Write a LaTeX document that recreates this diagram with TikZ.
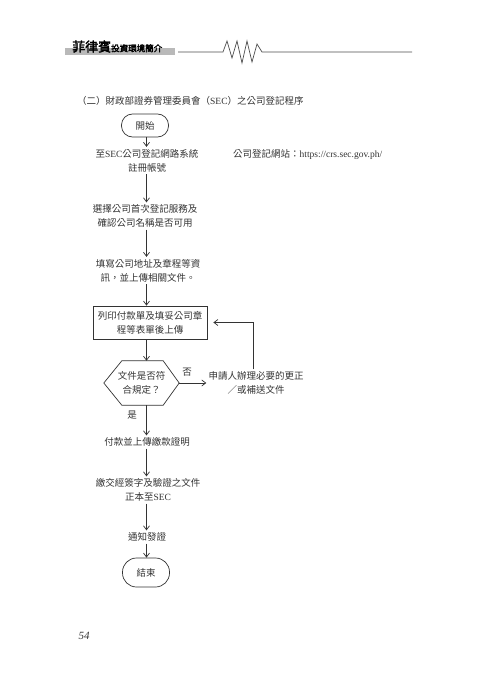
\documentclass[tikz,border=0pt]{standalone}
\usepackage{fontspec}
\setmainfont{Liberation Serif}
\newfontfamily\zhf{Noto Sans CJK TC}
\newfontfamily\zhb[FakeBold=2.5]{Noto Sans CJK TC}
\usetikzlibrary{arrows.meta,calc}
\definecolor{ink}{HTML}{333333}
\begin{document}
\begin{tikzpicture}[x=1pt,y=-1pt,
  txt/.style={font={\zhf\fontsize{9.5}{14}\selectfont}, text=ink, align=center, inner sep=2pt},
  term/.style={txt, draw=ink, line width=0.7pt, rounded corners=11pt, minimum width=47pt, minimum height=23pt},
  procbox/.style={txt, draw=ink, line width=0.7pt, minimum width=114pt, minimum height=33pt},
  arr/.style={draw=ink, line width=0.7pt, -{Straight Barb[length=4pt,width=6pt]}},
  lbl/.style={txt, inner sep=0pt}]
\useasboundingbox (0,0) rectangle (480,679);
% header
\fill[gray!55] (65,48) rectangle (175,55);
\node[anchor=base west, inner sep=0pt, text=black] (hdr) at (72,51.5) {{\zhb\fontsize{13}{13}\selectfont 菲律賓}{\zhb\fontsize{8.5}{9}\selectfont 投資環境簡介}};
\draw[line width=0.7pt, gray!60!black] (178,52) -- (223,52) -- (227,41) -- (232,58) -- (237,41) -- (242,63) -- (247,41) -- (252,62) -- (257,44) -- (262,52) -- (412,52);
% title
\node[txt, anchor=west, inner sep=0pt] (title) at (77,101) {（二）財政部證券管理委員會（{\rmfamily SEC}）之公司登記程序};
% flow
\coordinate (col) at (146.5,0);
\node[term] (start) at (145,125.5) {開始};
\node[txt] (s1) at (147,160.5) {至{\rmfamily SEC}公司登記網路系統\\註冊帳號};
\node[txt, anchor=west, inner sep=0pt] (url) at (233,155) {公司登記網站：{\rmfamily https://crs.sec.gov.ph/}};
\node[txt] (s2) at (145,216) {選擇公司首次登記服務及\\確認公司名稱是否可用};
\node[txt] (s3) at (148,270.5) {填寫公司地址及章程等資\\訊，並上傳相關文件。};
\node[procbox] (s4) at (150,322.5) {列印付款單及填妥公司章\\程等表單後上傳};
\node[txt, minimum width=75pt, minimum height=44pt, inner sep=0pt] (q) at (141.5,383) {文件是否符\\合規定？};
\draw[ink, line width=0.7pt] (q.west) -- ($(q.north west)+(18,0)$) -- ($(q.north east)+(-16,0)$) -- (q.east) -- ($(q.south east)+(-16,0)$) -- ($(q.south west)+(18,0)$) -- cycle;
\node[txt] (fix) at (256,383) {申請人辦理必要的更正\\／或補送文件};
\node[lbl] (no) at (187,372) {否};
\node[lbl] (yes) at (132,415) {是};
\node[txt] (s5) at (147,442) {付款並上傳繳款證明};
\node[txt] (s6) at (148,490) {繳交經簽字及驗證之文件\\正本至{\rmfamily SEC}};
\node[txt] (s7) at (147,537) {通知發證};
\node[term, minimum height=29pt, rounded corners=14pt] (end) at (146,572.5) {結束};
% connectors
\draw[arr] (start.south -| col) -- (s1.north -| col);
\draw[arr] (s1.south -| col) -- (s2.north -| col);
\draw[arr] (s2.south -| col) -- (s3.north -| col);
\draw[arr] (s3.south -| col) -- (s4.north -| col);
\draw[arr] (s4.south -| col) -- (q.north -| col);
\draw[arr] (q.east) -- (fix.west);
\draw[arr] ([xshift=-3pt]fix.north) |- ([xshift=6pt]s4.east);
\draw[arr] (q.south -| col) -- (s5.north -| col);
\draw[arr] (s5.south -| col) -- (s6.north -| col);
\draw[arr] (s6.south -| col) -- (s7.north -| col);
\draw[arr] (s7.south -| col) -- (end.north -| col);
% page number
\node[font={\rmfamily\itshape\fontsize{11}{11}\selectfont}, text=ink] (pg) at (84,636) {54};
\end{tikzpicture}
\end{document}
